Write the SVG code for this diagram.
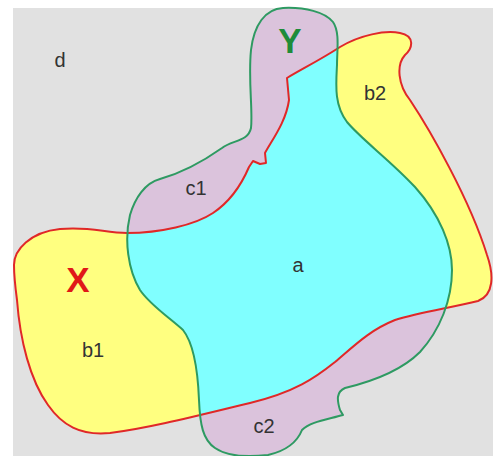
<svg xmlns="http://www.w3.org/2000/svg" width="493" height="456" viewBox="0 0 493 456">
<style>
.lbl{font-family:"Liberation Sans",Arial,sans-serif;font-size:20px;fill:#333}
.big{font-family:"Liberation Sans",Arial,sans-serif;font-size:35px;font-weight:bold}
.edge{fill:none;stroke-width:2;stroke-linejoin:round}
</style>
<defs>
<path id="px" d="M14,265 C14,250 30,232 60,229 C90,226 105,233 127,233 C160,233 195,225 213,213 C228,203 240,188 249,167 L253,161 L260,164 L266,163 L265,153 C272,140 286,122 289,100 L287,78 C300,70 320,60 340,47 C360,35 385,30 400,33 C415,36 413,48 405,55 C396,65 398,85 410,100 C430,130 470,200 487,255 C494,275 494,295 478,301 C450,308 420,312 395,320 C370,330 355,345 335,362 C315,378 295,392 250,403 C200,415 150,428 110,433 C80,436 62,425 48,405 C30,380 20,340 17,300 C15,285 14,275 14,265 Z"/>
<path id="py" d="M283,8 C305,7 325,12 333,22 C340,32 337,50 337,65 C336,85 334,105 347,122 C362,140 390,160 415,187 C440,215 452,245 452,270 C452,300 440,330 420,352 C400,372 370,382 345,388 C336,392 337,400 340,410 L343,415 C325,420 310,422 302,430 C298,440 290,450 268,455 C250,457 228,457 215,448 C203,440 200,425 199,400 C198,375 195,345 183,330 C170,318 150,305 140,290 C128,270 124,240 130,215 C135,198 145,183 160,179 C185,172 205,160 222,148 C232,140 248,142 251,128 C253,110 248,80 251,50 C254,25 265,9 283,8 Z"/>
<clipPath id="cx"><use href="#px"/></clipPath>
</defs>
<rect x="13" y="8" width="480" height="448" fill="#e1e1e1"/>
<g id="region-X"><use href="#px" fill="#ffff80"/></g>
<g id="region-Y"><use href="#py" fill="#dbc3dc"/></g>
<g id="region-a"><use href="#py" fill="#80ffff" clip-path="url(#cx)"/></g>
<g id="connectors">
<use href="#px" class="edge" stroke="#e02828"/>
<use href="#py" class="edge" stroke="#2e9a62"/>
</g>
<g id="labels">
<text class="lbl" x="60" y="67" text-anchor="middle">d</text>
<text class="big" x="290" y="53" text-anchor="middle" fill="#1e8c3a">Y</text>
<text class="lbl" x="375" y="100" text-anchor="middle">b2</text>
<text class="lbl" x="196" y="195" text-anchor="middle">c1</text>
<text class="lbl" x="298" y="272" text-anchor="middle">a</text>
<text class="big" x="78" y="292" text-anchor="middle" fill="#e01818">X</text>
<text class="lbl" x="93" y="357" text-anchor="middle">b1</text>
<text class="lbl" x="264" y="433" text-anchor="middle">c2</text>
</g>
</svg>
